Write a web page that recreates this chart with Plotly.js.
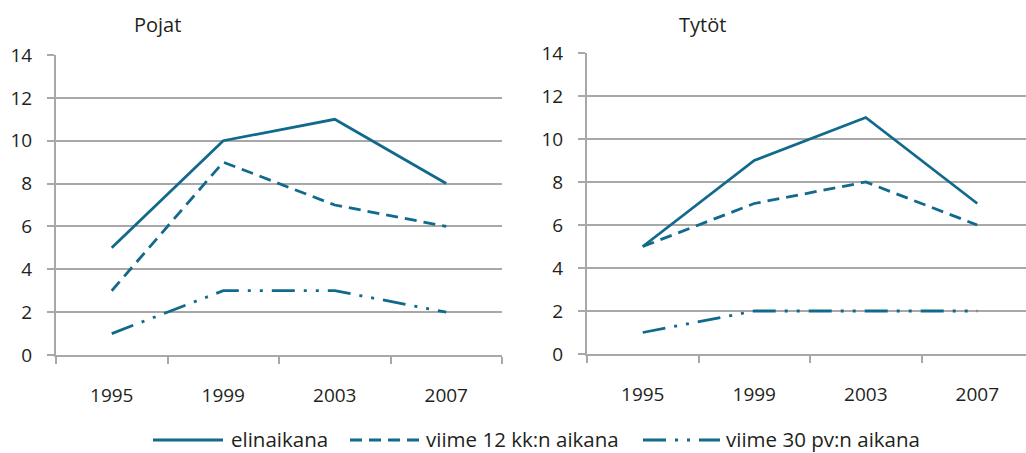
<!DOCTYPE html>
<html>
<head>
<meta charset="utf-8">
<script src="https://cdn.plot.ly/plotly-3.0.1.min.js"></script>
<style>html,body{margin:0;padding:0;background:#fff;}#chart{width:1026px;height:453px;}</style>
</head>
<body>
<div id="chart"></div>
<script>
const years = ["1995", "1999", "2003", "2007"];
const seriesNames = ["elinaikana", "viime 12 kk:n aikana", "viime 30 pv:n aikana"];
const pojatElinaikana = [5, 10, 11, 8];
const pojat12kk = [3, 9, 7, 6];
const pojat30pv = [1, 3, 3, 2];
const tytotElinaikana = [5, 9, 11, 7];
const tytot12kk = [5, 7, 8, 6];
const tytot30pv = [1, 2, 2, 2];
const panelTitles = ["Pojat", "Tytöt"];

const color = "#11698c";
const dashes = ["solid", "12px,7px", "23px,9px,3px,9px,3px,9px"];

function tr(y, i, xa, ya) {
  return {x: years, y: y, type: "scatter", mode: "lines", name: seriesNames[i],
    xaxis: xa, yaxis: ya, showlegend: false, hoverinfo: "none",
    line: {color: color, width: 2.8, dash: dashes[i]}};
}
const data = [
  tr(pojatElinaikana, 0, "x", "y"),
  tr(pojat12kk, 1, "x", "y"),
  tr(pojat30pv, 2, "x", "y"),
  tr(tytotElinaikana, 0, "x2", "y2"),
  tr(tytot12kk, 1, "x2", "y2"),
  tr(tytot30pv, 2, "x2", "y2")
];

const grid = "#a8a8a8";
const fam = "Open Sans, Noto Sans, sans-serif";
const tickFont = {family: fam, size: 19, color: "#231f20"};
const titleFont = {family: fam, size: 20, color: "#231f20"};
const legFont = {family: fam, size: 20.5, color: "#231f20"};
function xax(domain, range) {
  return {domain: domain, type: "category", range: range, showgrid: false, zeroline: false,
    showline: true, linecolor: grid, linewidth: 2, ticks: "outside", tickson: "boundaries",
    ticklen: 7, tickcolor: grid, tickwidth: 2, ticklabelstandoff: 22, tickfont: tickFont, fixedrange: true};
}
function yax(domain, anchor) {
  return {domain: domain, anchor: anchor, range: [0, 14], dtick: 2, showgrid: true, gridcolor: grid, gridwidth: 2,
    zeroline: false, showline: true, linecolor: grid, linewidth: 2, ticks: "outside", ticklen: 7,
    tickcolor: grid, tickwidth: 2, ticklabelstandoff: 11, tickfont: tickFont, fixedrange: true};
}

// custom legend (paper coordinates)
const W = 1026, H = 453;
const legY = 1 - 440 / H;
const legSamples = [[153, 223, 230], [350, 420, 425], [643, 720, 725]];
const shapes = legSamples.map((s, i) => ({type: "line", xref: "paper", yref: "paper",
  x0: s[0] / W, x1: s[1] / W, y0: legY, y1: legY, line: {color: color, width: 2.8, dash: dashes[i]}}));
const annotations = [
  {text: panelTitles[0], xref: "paper", yref: "paper", x: 157 / W, y: 1 - 25 / H, xanchor: "center", yanchor: "middle", showarrow: false, font: titleFont},
  {text: panelTitles[1], xref: "paper", yref: "paper", x: 702 / W, y: 1 - 24 / H, xanchor: "center", yanchor: "middle", showarrow: false, font: titleFont}
].concat(legSamples.map((s, i) => ({text: seriesNames[i], xref: "paper", yref: "paper",
  x: s[2] / W, y: 1 - 439 / H, xanchor: "left", yanchor: "middle", showarrow: false, font: legFont,
  borderpad: 0})));

const layout = {
  width: W, height: H,
  margin: {l: 0, r: 0, t: 0, b: 0},
  paper_bgcolor: "#fff", plot_bgcolor: "#fff",
  font: tickFont,
  xaxis: Object.assign(xax([56 / W, 502 / W], [-0.5, 3.5]), {anchor: "y"}),
  yaxis: yax([1 - 355 / H, 1 - 55 / H], "x"),
  xaxis2: Object.assign(xax([587 / W, 1], [-0.5, 3.437]), {anchor: "y2"}),
  yaxis2: yax([1 - 354 / H, 1 - 53 / H], "x2"),
  showlegend: false,
  shapes: shapes,
  annotations: annotations
};
Plotly.newPlot("chart", data, layout, {displayModeBar: false, staticPlot: true});
</script>
</body>
</html>
